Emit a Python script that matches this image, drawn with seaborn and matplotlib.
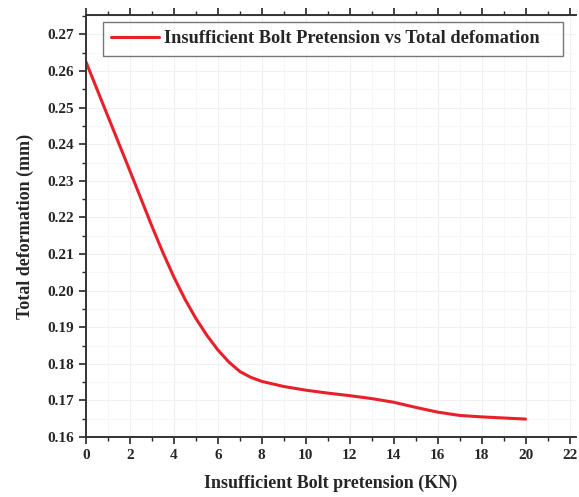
import matplotlib
matplotlib.use("Agg")
import matplotlib.pyplot as plt
import seaborn as sns
import pandas as pd
from matplotlib.ticker import MultipleLocator

pretension = [0, 1, 2, 3, 3.5, 4, 4.5, 5, 5.5, 6, 6.5, 7, 7.5, 8, 9, 10, 11, 12, 13, 14, 15, 16, 17, 18, 19, 20]
deformation = [0.2625, 0.2476, 0.2327, 0.2176, 0.2104, 0.2037, 0.1977, 0.1924, 0.1878, 0.1838,
               0.1805, 0.1779, 0.1763, 0.1752, 0.1738, 0.1728, 0.1720, 0.1713, 0.1705, 0.1695,
               0.1681, 0.1668, 0.1659, 0.1655, 0.1652, 0.1649]
series_label = "Insufficient Bolt Pretension vs Total defomation"

df = pd.DataFrame({"x": pretension, "y": deformation, "s": series_label})

sns.set_style("ticks")
plt.rcParams['font.family'] = ['Liberation Serif', 'DejaVu Serif']
plt.rcParams['font.weight'] = 'bold'

fig = plt.figure(figsize=(5.79, 4.97), dpi=100)
ax = fig.add_axes([0.1485, 0.1207, 0.8465, 0.849])

sns.lineplot(data=df, x="x", y="y", hue="s", palette=["#e8202a"], linewidth=2.2, ax=ax)

ax.set_xlim(0, 22.3)
ax.set_ylim(0.16, 0.2753)
ax.xaxis.set_major_locator(MultipleLocator(2))
ax.xaxis.set_minor_locator(MultipleLocator(1))
ax.yaxis.set_major_locator(MultipleLocator(0.01))
ax.yaxis.set_minor_locator(MultipleLocator(0.005))
ax.yaxis.set_major_formatter(matplotlib.ticker.FormatStrFormatter('%.2f'))
ax.grid(True, which='major', color='#f0f0f0', linewidth=0.8)
ax.grid(True, which='minor', color='#f6f6f6', linewidth=0.6)
ax.tick_params(which='major', direction='out', length=5, width=1.2, labelsize=11, top=True)
ax.tick_params(which='minor', direction='out', length=3, width=1.0, top=True)
for lab in ax.get_xticklabels() + ax.get_yticklabels():
    lab.set_fontweight('bold')
for sp in ['left', 'bottom', 'top']:
    ax.spines[sp].set_linewidth(1.4)
    ax.spines[sp].set_color('#333333')
ax.spines['right'].set_visible(False)

ax.set_xlabel("Insufficient Bolt pretension (KN)", fontsize=13, fontweight='bold', labelpad=9)
ax.set_ylabel("Total deformation (mm)", fontsize=13, fontweight='bold', labelpad=10)

leg = ax.legend(loc='upper left', bbox_to_anchor=(0.035, 0.5, 0.939, 0.483), mode='expand',
                borderaxespad=0, frameon=True, fancybox=False,
                prop={'family': 'Liberation Serif', 'weight': 'bold', 'size': 13.2},
                handlelength=2.6, handletextpad=0.25, borderpad=0.45, edgecolor='#555555')
leg.get_frame().set_linewidth(1.0)

fig.savefig("out.png", dpi=100)
